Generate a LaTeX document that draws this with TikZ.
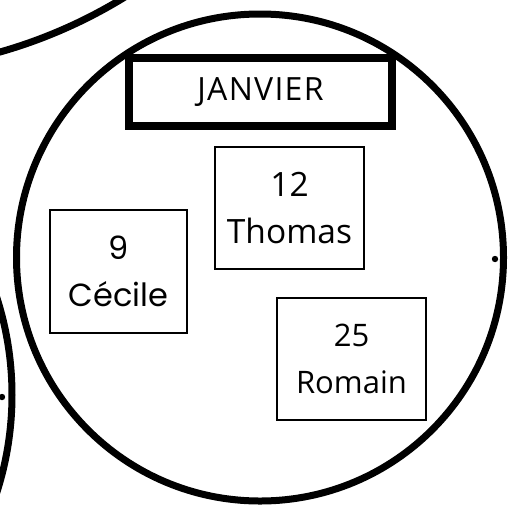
\documentclass[tikz,border=0pt]{standalone}
\usepackage{fontspec}
\setmainfont{Open Sans}
\newfontfamily\geofont{Poppins}
\begin{document}
\begin{tikzpicture}[x=1pt,y=-1pt,
  ring/.style={draw=black,line width=7pt},
  titlebox/.style={draw=black,line width=8pt,rectangle,minimum width=263pt,minimum height=68pt,inner sep=0pt,font=\fontsize{32}{36}\selectfont\addfontfeature{LetterSpace=4}},
  namebox/.style={draw=black,line width=2pt,rectangle,minimum width=149pt,minimum height=122pt,inner sep=0pt,align=center,font=\fontsize{32}{47}\selectfont},
  dotmark/.style={fill=black,draw=none}]
\useasboundingbox (0,0) rectangle (516,504);
\clip (0,0) rectangle (516,504);
\fill[white] (0,0) rectangle (516,504);
% circles
\draw[ring] (260,257.5) circle[radius=243.5];
\draw[ring] (-306,395) circle[radius=318];
\draw[ring] (-137,-429) circle[radius=500];
% dots
\fill[dotmark] (495,259) circle[radius=3.2];
\fill[dotmark] (2,397) circle[radius=3.2];
% boxes
\node[titlebox] (jan) at (260.5,92) {JANVIER};
\node[namebox,font=\fontsize{33.5}{47}\selectfont] (thomas) at (289.5,208) {12\\Thomas};
\node[namebox,minimum width=137pt,minimum height=123pt,font=\geofont\fontsize{32}{47}\selectfont] (cecile) at (118.5,271) {9\\Cécile};
\node[namebox,font=\fontsize{31}{47}\selectfont] (romain) at (351.5,359) {25\\Romain};
\end{tikzpicture}
\end{document}
